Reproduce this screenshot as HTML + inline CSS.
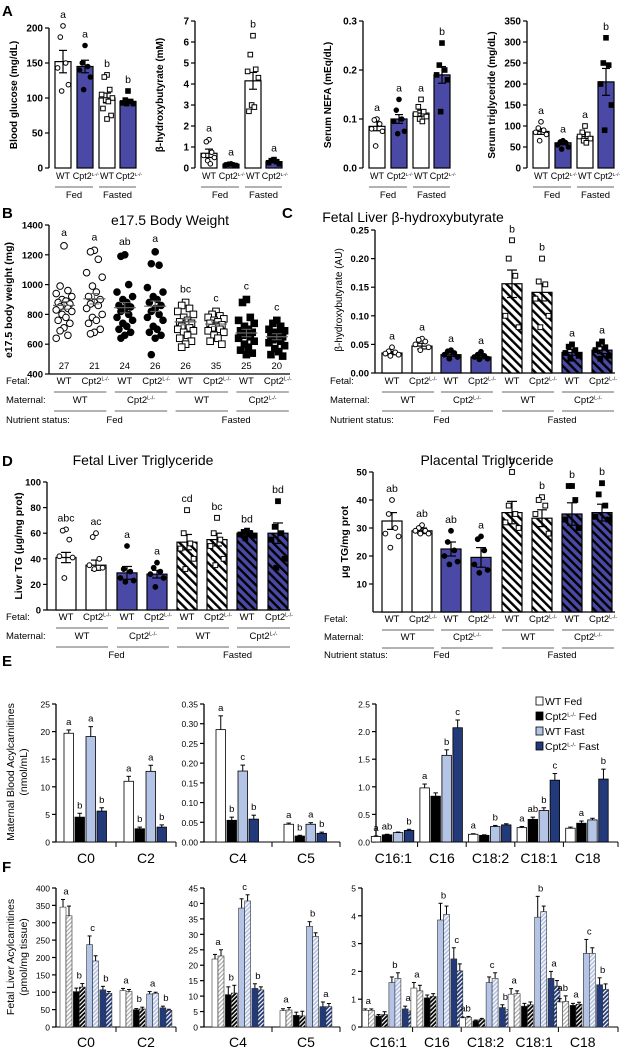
<!DOCTYPE html>
<html><head><meta charset="utf-8"><style>
html,body{margin:0;padding:0;background:#fff;}
svg{display:block;font-family:"Liberation Sans",Arial,sans-serif;}
</style></head><body>
<svg id="fig" width="625" height="1050" viewBox="0 0 625 1050" xmlns="http://www.w3.org/2000/svg">
<defs>
<pattern id="hW" width="6" height="6" patternUnits="userSpaceOnUse" patternTransform="rotate(-45)"><rect width="6" height="6" fill="#fff"/><rect width="2.4" height="6" fill="#000"/></pattern>
<pattern id="hB" width="6" height="6" patternUnits="userSpaceOnUse" patternTransform="rotate(-45)"><rect width="6" height="6" fill="#4a4aa6"/><rect width="2.4" height="6" fill="#000"/></pattern>
<pattern id="fW" width="3" height="3" patternUnits="userSpaceOnUse" patternTransform="rotate(45)"><rect width="3" height="3" fill="#fff"/><rect width="1.2" height="3" fill="#aaa"/></pattern>
<pattern id="fK" width="3" height="3" patternUnits="userSpaceOnUse" patternTransform="rotate(45)"><rect width="3" height="3" fill="#000"/><rect width="1.2" height="3" fill="#fff"/></pattern>
<pattern id="fL" width="3" height="3" patternUnits="userSpaceOnUse" patternTransform="rotate(45)"><rect width="3" height="3" fill="#b4c4e6"/><rect width="1.2" height="3" fill="#fff"/></pattern>
<pattern id="fN" width="3" height="3" patternUnits="userSpaceOnUse" patternTransform="rotate(45)"><rect width="3" height="3" fill="#22397a"/><rect width="1.2" height="3" fill="#fff"/></pattern>
</defs>
</svg>
<script>
// ---------- Panel A data ----------
const aGlucMean=[152,145,100,95], aGlucErr=[16,9,7,3];
const aGlucPts=[[203,187,150,143,119,110],[175,150,145,140,130,112],[133,130,112,105,100,97,95,85,75,70],[110,97,95,93,92,92]];
const aGlucLet=['a','a','b','b'];
const aBhbMean=[0.7,0.18,4.15,0.3], aBhbErr=[0.2,0.03,0.4,0.05];
const aBhbPts=[[1.35,1.25,0.75,0.6,0.5,0.35,0.2],[0.2,0.18,0.15,0.15,0.12],[6.3,5.4,4.7,4.6,4.3,3.0,2.9,2.7],[0.4,0.35,0.3,0.25,0.2]];
const aBhbLet=['a','a','b','a'];
const aNefaMean=[0.085,0.1,0.112,0.19], aNefaErr=[0.009,0.009,0.006,0.017];
const aNefaPts=[[0.1,0.098,0.09,0.08,0.075,0.045],[0.14,0.118,0.1,0.095,0.075,0.07],[0.14,0.125,0.115,0.11,0.105,0.1,0.095],[0.255,0.21,0.2,0.19,0.18,0.115]];
const aNefaLet=['a','a','a','b'];
const aTgMean=[87,60,75,205], aTgErr=[7,5,5,32];
const aTgPts=[[110,95,90,85,80,65],[65,62,60,55,50,45],[100,85,80,75,70,65,60],[310,250,245,200,150,90]];
const aTgLet=['a','a','a','b'];
// ---------- Panel B data ----------
const bMean=[860,905,845,855,750,735,675,650];
const bErr=[25,35,35,35,20,15,25,20];
const bN=['27','21','24','26','26','35','25','20'];
const bLet=['a','a','ab','a','bc','c','c','c'];
const bPts=[[1260,990,960,940,920,900,890,880,870,860,850,840,830,820,800,780,760,740,710,690,660,640],
[1230,1220,1170,1080,1050,990,950,920,900,880,870,860,840,800,780,760,740,700,680,670],
[1200,1190,1000,950,920,900,880,860,850,840,820,800,780,760,740,720,700,680,660,640],
[1220,1140,1130,980,950,920,900,880,860,840,820,800,780,760,720,700,680,660,640,530],
[880,860,840,820,800,780,760,750,740,730,720,710,700,690,680,660,640,620,600,580],
[820,800,790,780,770,760,750,740,730,720,710,700,690,680,660,640,620,600],
[900,880,780,760,740,720,700,690,680,670,660,650,640,620,600,580,560,540,530],
[760,740,720,700,690,680,670,660,650,640,630,620,610,590,570,550,530,520]];
// ---------- Panel C data ----------
const cMean=[0.035,0.047,0.032,0.028,0.156,0.141,0.036,0.04];
const cErr=[0.003,0.005,0.003,0.003,0.024,0.015,0.005,0.006];
const cLet=['a','a','a','a','b','b','a','a'];
const cPts=[[0.045,0.038,0.036,0.034,0.032,0.03],[0.06,0.058,0.055,0.05,0.045,0.04],[0.04,0.038,0.035,0.032,0.028,0.025],[0.037,0.032,0.03,0.028,0.025,0.024],[0.232,0.2,0.17,0.1,0.08],[0.2,0.16,0.155,0.13,0.1,0.08],[0.05,0.046,0.04,0.035,0.03,0.025],[0.055,0.05,0.045,0.04,0.03,0.025]];
// ---------- Panel D data ----------
const dLivMean=[41,35,29,28,53,55,60,60];
const dLivErr=[4,4,5,3,6,5,2,8];
const dLivLet=['abc','ac','a','a','cd','bc','bd','bd'];
const dLivPts=[[63,62,55,42,41,25],[60,57,40,35,33,32],[50,32,30,25,23,22],[37,33,30,28,25,18],[78,60,52,48,40,32],[72,60,55,50,40,35],[62,61,60,59,58,56],[85,65,60,55,40,33]];
const dPlaMean=[32.5,29,22.5,19.5,35.5,33.5,35,35.5];
const dPlaErr=[3,1,2.5,3.5,4,3,4,3];
const dPlaLet=['ab','ab','ab','a','b','b','b','b'];
const dPlaPts=[[40,35,30,28,27,23],[31,30,29,29,28,28],[29,25,22,20,18,17],[27,26,22,17,15,14],[50,38,35,32,30],[41,40,38,35,28],[45,45,40,33,30],[46,42,38,34,33]];
// ---------- Panel E data ----------
const eCats1=['C0','C2'], eCats2=['C4','C5'], eCats3=['C16:1','C16','C18:2','C18:1','C18'];
const eVal1=[[19.7,4.5,19.1,5.6],[11,2.4,12.8,2.7]];
const eErr1=[[0.6,0.7,1.8,0.6],[0.9,0.3,1.1,0.4]];
const eLet1=[['a','b','a','b'],['a','b','a','b']];
const eVal2=[[0.285,0.055,0.18,0.058],[0.045,0.015,0.045,0.022]];
const eErr2=[[0.035,0.008,0.015,0.01],[0.003,0.002,0.004,0.003]];
const eLet2=[['a','b','c','b'],['a','b','a','b']];
const eVal3=[[0.1,0.13,0.17,0.21],[0.98,0.83,1.57,2.07],[0.14,0.12,0.28,0.31],[0.26,0.41,0.57,1.12],[0.25,0.34,0.4,1.14]];
const eErr3=[[0.01,0.01,0.01,0.02],[0.07,0.06,0.1,0.14],[0.01,0.01,0.02,0.02],[0.02,0.04,0.05,0.12],[0.02,0.04,0.03,0.18]];
const eLet3=[['a','ab','','b'],['a','','b','c'],['a','','b',''],['a','ab','b','c'],['','a','','b']];
// ---------- Panel F data ----------
const fVal1=[[345,320,102,115,237,190,107,97],[105,102,50,52,95,97,55,48]];
const fErr1=[[22,28,10,10,25,15,10,5],[6,6,3,5,7,3,5,3]];
const fLet1=[['a','b','c','b'],['a','b','a','b']];
const fVal2=[[22,23,10.5,11,38.5,40.8,12.5,12],[5.3,5.5,3.8,3.6,32.6,29.3,6.6,6.6]];
const fErr2=[[1.5,2,2.5,2.5,3,2,1.5,1],[0.6,0.8,1,1.5,1.5,1.2,1.5,1]];
const fLet2=[['a','b','c','b'],['a','','b','a']];
const fVal3=[[0.6,0.6,0.4,0.45,1.6,1.75,0.65,0.52],[1.4,1.3,1.05,1.1,3.85,4.05,2.45,2.02],[0.33,0.35,0.22,0.27,1.6,1.75,0.7,0.55],[1.18,1.2,0.75,0.8,3.95,4.15,1.75,1.47],[0.9,0.92,0.78,0.82,2.65,2.65,1.52,1.35]];
const fErr3=[[0.05,0.05,0.05,0.1,0.2,0.2,0.1,0.05],[0.2,0.2,0.1,0.1,0.6,0.3,0.4,0.25],[0.03,0.03,0.03,0.04,0.2,0.2,0.1,0.07],[0.2,0.1,0.1,0.1,0.75,0.2,0.25,0.2],[0.12,0.2,0.07,0.07,0.5,0.2,0.25,0.2]];
const fLet3=[['a','','b','a'],['a','','b','c'],['ab','','c','b'],['a','','b','a'],['ab','a','c','b']];

const NS='http://www.w3.org/2000/svg';
const svg=document.getElementById('fig');
const BLUE='#4a4aa6';
function mk(tag,attrs,name){
  const e=document.createElementNS(NS,tag);
  for(const k in attrs)e.setAttribute(k,attrs[k]);
  
  
  svg.appendChild(e);return e;
}
function txt(x,y,s,size,anchor,weight,name,rot){
  const a={x:x,y:y,'font-size':size,'text-anchor':anchor||'middle','font-weight':weight||'normal',fill:'#000'};
  if(rot)a.transform='rotate(-90 '+x+' '+y+')';
  const t=mk('text',a,name);t.textContent=s;return t;
}
function cpt(x,y,size,anchor,weight,name,suffix){
  const t=mk('text',{x:x,y:y,'font-size':size,'text-anchor':anchor||'middle','font-weight':weight||'normal'},name);
  const s1=document.createElementNS(NS,'tspan');s1.textContent='Cpt2';t.appendChild(s1);
  const s2=document.createElementNS(NS,'tspan');s2.setAttribute('font-size',size*0.55);s2.setAttribute('dy',-size*0.35);s2.textContent='L-/-';t.appendChild(s2);
  if(suffix){const s3=document.createElementNS(NS,'tspan');s3.setAttribute('dy',size*0.35);s3.textContent=suffix;t.appendChild(s3);}
  return t;
}
function line(x1,y1,x2,y2,w,col,name){return mk('line',{x1:x1,y1:y1,x2:x2,y2:y2,stroke:col||'#000','stroke-width':w||1},name);}
function scale(min,max,bot,top){return v=>bot-(v-min)/(max-min)*(bot-top);}
function yAxis(x,sc,ticks,fmt,size,weight,name){
  line(x,sc(ticks[0]),x,sc(ticks[ticks.length-1]),1.3,'#000',name+'-line');
  ticks.forEach(t=>{line(x-4,sc(t),x,sc(t),1.2,'#000',name+'-tick');
    txt(x-6,sc(t)+3.5,fmt(t),size,'end',weight,name+'-label');});
}
function marker(cx,cy,shape,filled,r,name){
  const f=filled?'#000':'#fff';
  if(shape==='c')return mk('circle',{cx:cx,cy:cy,r:r,fill:f,stroke:'#000','stroke-width':1},name);
  return mk('rect',{x:cx-r,y:cy-r,width:2*r,height:2*r,fill:f,stroke:'#000','stroke-width':1},name);
}
function errBar(cx,yMean,yHi,yLo,cap,name){
  line(cx,yHi,cx,yLo,1.2,'#000',name);
  line(cx-cap,yHi,cx+cap,yHi,1.2,'#000',name);
  if(yLo!==yMean)line(cx-cap,yLo,cx+cap,yLo,1.2,'#000',name);
}
function jit(i){return [0,-3,3,-6,6,-1.5,1.5,-4.5,4.5][i%9];}

// ---------- Panel A ----------
txt(2,16,'A',15,'start','bold','panel-label-a');
function panelA(ax,topPx,max,ticks,fmt,title,mean,err,pts,lets,key){
  const sc=scale(0,max,168,topPx);
  yAxis(ax,sc,ticks,fmt,10,'bold',key+'-y-axis');
  txt(ax-32,95,title,10,'middle','bold',key+'-y-title',true);
  const offs=[14,36,58,79];
  mean.forEach((m,i)=>{
    const cx=ax+offs[i];
    mk('rect',{x:cx-8,y:sc(m),width:16,height:168-sc(m),fill:(i%2)?BLUE:'#fff',stroke:'#000','stroke-width':1.2},key+'-bar');
    errBar(cx,sc(m),sc(m+err[i]),sc(m-err[i]),4,key+'-error-bar');
    pts[i].forEach((p,j)=>marker(cx+jit(j)*0.9,sc(p),i<2?'c':'s',i%2===1,2.3,key+'-point'));
    const top=Math.min(sc(Math.max(...pts[i])),sc(m+err[i]));
    txt(cx,top-8,lets[i],10.5,'middle','normal',key+'-letter');
  });
  txt(ax+offs[0],179,'WT',9,'middle','normal',key+'-x-label');
  cpt(ax+offs[1]+1,179,9,'middle','normal',key+'-x-label');
  txt(ax+offs[2],179,'WT',9,'middle','normal',key+'-x-label');
  cpt(ax+offs[3]+1,179,9,'middle','normal',key+'-x-label');
  line(ax+offs[0]-8,187,ax+offs[1]+8,187,1,'#666',key+'-fed-line');
  line(ax+offs[2]-8,187,ax+offs[3]+8,187,1,'#666',key+'-fasted-line');
  txt((2*ax+offs[0]+offs[1])/2,198,'Fed',9.5,'middle','normal',key+'-fed-label');
  txt((2*ax+offs[2]+offs[3])/2,198,'Fasted',9.5,'middle','normal',key+'-fasted-label');
}
panelA(49,28,200,[0,50,100,150,200],v=>v,'Blood glucose (mg/dL)',aGlucMean,aGlucErr,aGlucPts,aGlucLet,'glucose');
panelA(195,21,7,[0,1,2,3,4,5,6,7],v=>v,'β-hydroxybutyrate (mM)',aBhbMean,aBhbErr,aBhbPts,aBhbLet,'bhb');
panelA(363,21,0.3,[0,0.1,0.2,0.3],v=>v.toFixed(1),'Serum NEFA (mEq/dL)',aNefaMean,aNefaErr,aNefaPts,aNefaLet,'nefa');
panelA(527,21,350,[0,50,100,150,200,250,300,350],v=>v,'Serum triglyceride (mg/dL)',aTgMean,aTgErr,aTgPts,aTgLet,'serum-tg');

// ---------- shared rows ----------
function rows(xs,lx,fy,my,ny,key,withNut){
  txt(lx,fy+3,'Fetal:',9.5,'start','normal',key+'-fetal-row-label');
  txt(lx,my+3,'Maternal:',9.5,'start','normal',key+'-maternal-row-label');
  xs.forEach((x,i)=>{ if(i%2===0)txt(x,fy+3,'WT',9.5,'middle','normal',key+'-fetal-label'); else cpt(x+1,fy+3,9.5,'middle','normal',key+'-fetal-label');});
  for(let p=0;p<4;p++){
    const a=xs[2*p]-10,b=xs[2*p+1]+12;
    line(a,fy+11,b,fy+11,1,'#666',key+'-fetal-underline');
    if(p%2===0)txt((a+b)/2,my+3,'WT',9.5,'middle','normal',key+'-maternal-label'); else cpt((a+b)/2,my+3,9.5,'middle','normal',key+'-maternal-label');
    line(a,my+11,b,my+11,1,'#666',key+'-maternal-underline');
  }
  if(withNut){
    txt(lx,ny+3,'Nutrient status:',9.5,'start','normal',key+'-nutrient-row-label');
  }
  txt((xs[0]+xs[3])/2+5,ny+3,'Fed',9.5,'middle','normal',key+'-fed-label');
  txt((xs[4]+xs[7])/2+5,ny+3,'Fasted',9.5,'middle','normal',key+'-fasted-label');
}

// ---------- Panel B ----------
txt(2,218,'B',15,'start','bold','panel-label-b');
txt(170,225,'e17.5 Body Weight',14,'middle','normal','b-title');
(function(){
  const sc=scale(400,1400,374,225);
  yAxis(49,sc,[400,600,800,1000,1200,1400],v=>v,9.5,'bold','b-y-axis');
  line(49,374,290,374,1.3,'#000','b-x-axis');
  txt(12,300,'e17.5 body weight (mg)',10.5,'middle','bold','b-y-title',true);
  const xs=[];
  bMean.forEach((m,i)=>{
    const cx=64+30.4*i;xs.push(cx);
    bPts[i].forEach((p,j)=>marker(cx+jit(j)*1.3,sc(p),i<4?'c':'s',(i>>1)%2===1,3.3,'b-point'));
    line(cx-11,sc(m),cx+11,sc(m),1.2,'#666','b-mean-line');
    line(cx,sc(m+bErr[i]),cx,sc(m-bErr[i]),1,'#666','b-error-bar');
    line(cx-5,sc(m+bErr[i]),cx+5,sc(m+bErr[i]),1,'#666','b-error-bar');
    line(cx-5,sc(m-bErr[i]),cx+5,sc(m-bErr[i]),1,'#666','b-error-bar');
    txt(cx,369,bN[i],9.5,'middle','normal','b-count');
    txt(cx,sc(Math.max(...bPts[i]))-10,bLet[i],10.5,'middle','normal','b-letter');
  });
  rows(xs,6,381,400,420,'b',true);
})();

// ---------- bar-style panels C / D ----------
function barPanel(ax,sc,mean,err,pts,lets,key,xs){
  const fills=['#fff','#fff',BLUE,BLUE,'url(#hW)','url(#hW)','url(#hB)','url(#hB)'];
  const base=sc(0);
  mean.forEach((m,i)=>{
    const cx=xs[i];
    mk('rect',{x:cx-10,y:sc(m),width:20,height:base-sc(m),fill:fills[i],stroke:'#000','stroke-width':1.2},key+'-bar');
    errBar(cx,sc(m),sc(m+err[i]),sc(m-err[i]),5,key+'-error-bar');
    pts[i].forEach((p,j)=>marker(cx+jit(j)*1.1,sc(p),(i>>2)?'s':'c',(i>>1)%2===1,2.4,key+'-point'));
    const top=Math.min(sc(Math.max(...pts[i])),sc(m+err[i]));
    txt(cx,top-8,lets[i],10.5,'middle','normal',key+'-letter');
  });
}
const xsR=[392,422,451,481,512,542,572,602];
const xsL=[66,96,127,157,187,217,247,278];
txt(282,218,'C',15,'start','bold','panel-label-c');
txt(413,222,'Fetal Liver β-hydroxybutyrate',14,'middle','normal','c-title');
(function(){
  const sc=scale(0,0.25,373,230);
  yAxis(375,sc,[0,0.05,0.1,0.15,0.2,0.25],v=>v.toFixed(2),9.5,'bold','c-y-axis');
  line(375,373,615,373,1.3,'#000','c-x-axis');
  txt(342,300,'β-hydroxybutyrate  (AU)',10,'middle','normal','c-y-title',true);
  barPanel(375,sc,cMean,cErr,cPts,cLet,'c',xsR);
  rows(xsR,330,381,400,420,'c',true);
})();

txt(2,466,'D',15,'start','bold','panel-label-d');
txt(143,465,'Fetal Liver Triglyceride',14,'middle','normal','d-liver-title');
txt(487,465,'Placental Triglyceride',14,'middle','normal','d-placenta-title');
(function(){
  const sc=scale(0,100,610,482);
  yAxis(47,sc,[0,20,40,60,80,100],v=>v,9.5,'bold','d-liver-y-axis');
  line(47,610,290,610,1.3,'#000','d-liver-x-axis');
  txt(22,546,'Liver TG (μg/mg prot)',10.5,'middle','bold','d-liver-y-title',true);
  barPanel(47,sc,dLivMean,dLivErr,dLivPts,dLivLet,'d-liver',xsL);
  rows(xsL,6,617,636,655,'d-liver',false);
  const sp=scale(0,50,612,472);
  yAxis(373,sp,[10,20,30,40,50],v=>v,9.5,'bold','d-placenta-y-axis');
  line(373,sp(10),373,612,1.3,'#000','d-placenta-y-axis-line');
  line(373,612,615,612,1.3,'#000','d-placenta-x-axis');
  txt(348,542,'μg TG/mg prot',10.5,'middle','bold','d-placenta-y-title',true);
  barPanel(373,sp,dPlaMean,dPlaErr,dPlaPts,dPlaLet,'d-placenta',xsR);
  rows(xsR,324,619,637,655,'d-placenta',true);
})();

// ---------- grouped bar panels E / F ----------
function groupPanel(ax,axEnd,gx0,gw,sc,ticks,fmt,cats,vals,errs,lets,key,mode,labY){
  yAxis(ax,sc,ticks,fmt,8.5,'normal',key+'-y-axis');
  const base=sc(0);
  line(ax,base,axEnd,base,1,'#000',key+'-x-axis');
  const n=cats.length;
  for(let i=1;i<n;i++)line(gx0+gw/n*i,base,gx0+gw/n*i,base+5,1,'#000',key+'-x-tick');
  line(axEnd,base,axEnd,base+5,1,'#000',key+'-x-tick');
  cats.forEach((c,g)=>{
    const gc=gx0+gw/n*(g+0.5);
    txt(gc,labY,c,14,'middle','normal',key+'-category-label');
    const v=vals[g];
    if(mode==='E'){
      const fills=['#fff','#000','#b4c4e6','#22397a'];
      v.forEach((m,i)=>{
        const x=gc-22+i*11;
        mk('rect',{x:x,y:sc(m),width:9.5,height:base-sc(m),fill:fills[i],stroke:'#000','stroke-width':0.8},key+'-bar');
        const yh=sc(m+errs[g][i]);
        line(x+4.75,sc(m),x+4.75,yh,1,'#000',key+'-error-bar');
        line(x+2.5,yh,x+7,yh,1,'#000',key+'-error-bar');
        if(lets[g][i])txt(x+4.75,yh-5,lets[g][i],9.5,'middle','normal',key+'-letter');
      });
    } else {
      const fills=['#fff','url(#fW)','#000','url(#fK)','#b4c4e6','url(#fL)','#22397a','url(#fN)'];
      v.forEach((m,i)=>{
        const x=gc-26+i*6+(i>>1)*1.3;
        mk('rect',{x:x,y:sc(m),width:6,height:base-sc(m),fill:fills[i],stroke:'#333','stroke-width':0.6},key+'-bar');
        const yh=sc(m+errs[g][i]);
        line(x+3,sc(m),x+3,yh,1,'#000',key+'-error-bar');
        line(x+1,yh,x+5,yh,1,'#000',key+'-error-bar');
      });
      lets[g].forEach((l,p)=>{
        if(!l)return;
        const top=Math.min(sc(v[2*p]+errs[g][2*p]),sc(v[2*p+1]+errs[g][2*p+1]));
        txt(gc-26+p*13.3+6,top-5,l,9.5,'middle','normal',key+'-letter');
      });
    }
  });
}
txt(2,666,'E',15,'start','bold','panel-label-e');
txt(14,772,'Maternal Blood Acylcarnitines',10.5,'middle','normal','e-y-title',true);
txt(27,772,'(nmol/mL)',10.5,'middle','normal','e-y-subtitle',true);
groupPanel(56,176,56,120,scale(0,25,842,704),[0,5,10,15,20,25],v=>v,eCats1,eVal1,eErr1,eLet1,'e-c0',"E",863);
groupPanel(204,340,204,136,scale(0,0.35,842,704),[0,0.05,0.1,0.15,0.2,0.25,0.3,0.35],v=>v.toFixed(2),eCats2,eVal2,eErr2,eLet2,'e-c4',"E",863);
groupPanel(376,618,369,243,scale(0,2.5,842,704),[0,0.5,1,1.5,2,2.5],v=>v.toFixed(1),eCats3,eVal3,eErr3,eLet3,'e-long',"E",863);
(function(){
  const labs=['WT Fed','Fed','WT Fast','Fast'];
  const fills=['#fff','#000','#b4c4e6','#22397a'];
  labs.forEach((l,i)=>{
    const y=704+i*15;
    mk('rect',{x:536,y:y-7,width:7,height:8,fill:fills[i],stroke:'#000','stroke-width':0.8},'legend-swatch');
    if(i%2===0)txt(545,y+1,l,10.5,'start','normal','legend-entry');
    else cpt(545,y+1,10.5,'start','normal','legend-entry',' '+l);
  });
})();

txt(2,872,'F',15,'start','bold','panel-label-f');
txt(14,957,'Fetal Liver Acylcarnitines',10.5,'middle','normal','f-y-title',true);
txt(27,957,'(pmol/mg tissue)',10.5,'middle','normal','f-y-subtitle',true);
groupPanel(56,176,56,120,scale(0,400,1027,888),[0,50,100,150,200,250,300,350,400],v=>v,eCats1,fVal1,fErr1,fLet1,'f-c0',"F",1047);
groupPanel(204,340,204,136,scale(0,45,1027,888),[0,5,10,15,20,25,30,35,40,45],v=>v,eCats2,fVal2,fErr2,fLet2,'f-c4',"F",1047);
groupPanel(362,618,364,243,scale(0,5,1027,888),[0,1,2,3,4,5],v=>v,eCats3,fVal3,fErr3,fLet3,'f-long',"F",1047);
</script>
</body></html>
